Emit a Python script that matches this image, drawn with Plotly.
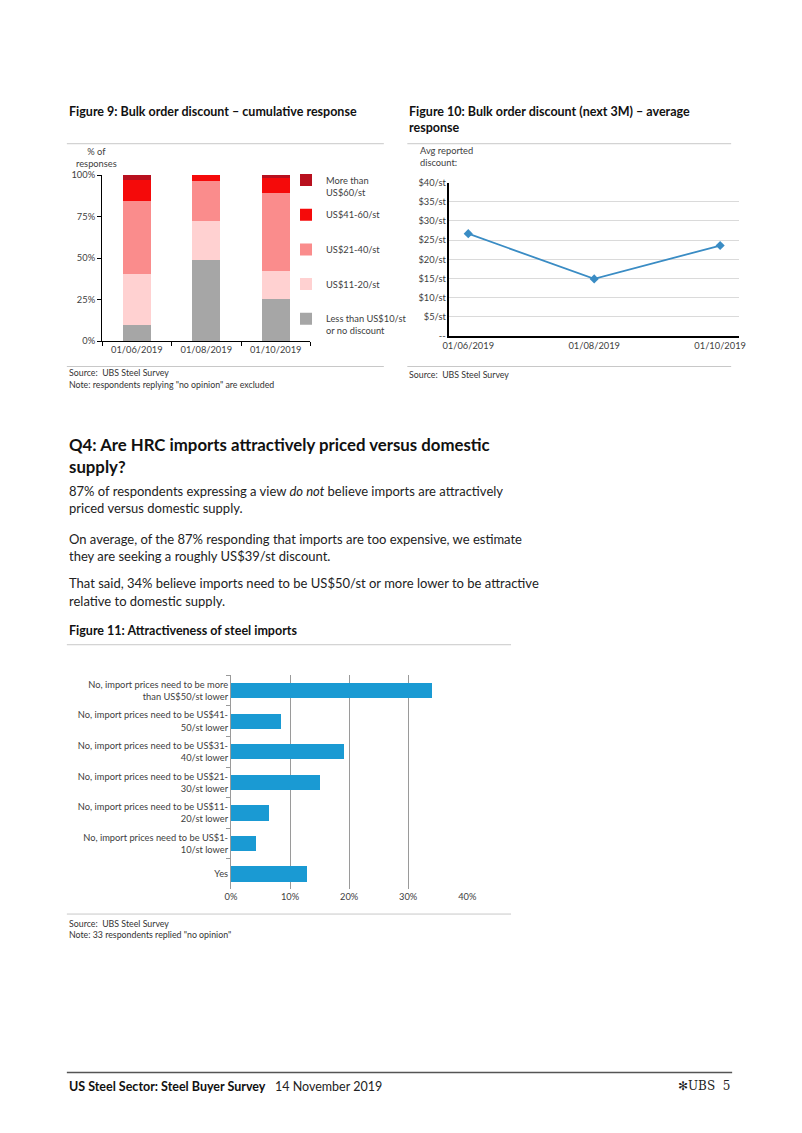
import plotly.graph_objects as go

# page geometry: browser body margin is 8px, so the figure is 16px smaller than the window
PAGE_W, PAGE_H, BODY_M = 802, 1133, 8
W, H = PAGE_W - 2 * BODY_M, PAGE_H - 2 * BODY_M
FONT = "Lato"
TXT = "#222222"
AX = "#404040"
NB = "\u00a0"

# ---------- data ----------
f9_dates = ["01/06/2019", "01/08/2019", "01/10/2019"]
f9_lt10 = [9.5, 49.1, 25.2]
f9_11_20 = [31.1, 23.1, 17.3]
f9_21_40 = [43.5, 24.5, 46.8]
f9_41_60 = [12.9, 3.3, 9.1]
f9_gt60 = [3.0, 0.0, 1.6]
f9_names = ["Less than US$10/st<br>or no discount", "US$11-20/st", "US$21-40/st",
            "US$41-60/st", "More than<br>US$60/st"]
f9_colors = ["#A6A6A6", "#FFD1D1", "#FA8C8C", "#F50A0A", "#B8101E"]
f9_ticks = [0, 25, 50, 75, 100]
f9_ticktext = ["0%", "25%", "50%", "75%", "100%"]

f10_dates = ["01/06/2019", "01/08/2019", "01/10/2019"]
f10_avg = [26.7, 14.9, 23.6]
f10_ticks = [0, 5, 10, 15, 20, 25, 30, 35, 40]
f10_ticktext = ["--", "$5/st", "$10/st", "$15/st", "$20/st", "$25/st", "$30/st", "$35/st", "$40/st"]

f11_cats = ["No, import prices need to be more<br>than US$50/st lower",
            "No, import prices need to be US$41-<br>50/st lower",
            "No, import prices need to be US$31-<br>40/st lower",
            "No, import prices need to be US$21-<br>30/st lower",
            "No, import prices need to be US$11-<br>20/st lower",
            "No, import prices need to be US$1-<br>10/st lower",
            "Yes"]
f11_vals = [34.1, 8.5, 19.2, 15.0, 6.4, 4.3, 12.8]
f11_ticks = [0, 10, 20, 30, 40]
f11_ticktext = ["0%", "10%", "20%", "30%", "40%"]


def px(x):
    return (x - BODY_M) / W


def py(y):
    return 1 - (y - BODY_M) / H


fig = go.Figure()

# ---------- Figure 9 ----------
series9 = [f9_lt10, f9_11_20, f9_21_40, f9_41_60, f9_gt60]
n9 = len(series9)
for i, (name, vals, col) in enumerate(zip(f9_names, series9, f9_colors)):
    label = name if "<br>" in name else name + "<br>" + NB
    fig.add_trace(go.Bar(x=f9_dates, y=vals, name=label, marker=dict(color=col, line=dict(width=0)),
                         width=0.4, xaxis="x", yaxis="y", legendgroup="g%d" % i,
                         legendrank=n9 - i, showlegend=True))

# ---------- Figure 10 ----------
fig.add_trace(go.Scatter(x=f10_dates, y=f10_avg, mode="lines+markers",
                         line=dict(color="#3A8CC4", width=1.8),
                         marker=dict(symbol="diamond", size=7, color="#3A8CC4"),
                         xaxis="x2", yaxis="y2", showlegend=False))

# ---------- Figure 11 ----------
fig.add_trace(go.Bar(x=f11_vals, y=f11_cats, orientation="h", width=0.5,
                     marker=dict(color="#1A9AD3", line=dict(width=0)),
                     xaxis="x3", yaxis="y3", showlegend=False))

tickfont = dict(family=FONT, size=9.3, color=AX)

fig.update_layout(
    width=W, height=H, margin=dict(l=0, r=0, t=0, b=0),
    paper_bgcolor="white", plot_bgcolor="rgba(0,0,0,0)",
    barmode="stack",
    font=dict(family=FONT, color=TXT),
    showlegend=True,
    legend=dict(x=px(285), y=py(163), xanchor="left", yanchor="top",
                traceorder="grouped", tracegroupgap=7.5, valign="top",
                font=dict(family=FONT, size=9.3, color=AX), bgcolor="rgba(0,0,0,0)"),
    xaxis=dict(domain=[px(97), px(310)], anchor="y", showline=True, linecolor="#000", linewidth=1.2,
               ticks="outside", tickson="boundaries", ticklen=4, tickcolor="#000",
               tickfont=tickfont, showgrid=False, fixedrange=True),
    yaxis=dict(domain=[py(338.3), py(170.7)], anchor="x", range=[0, 100], tickvals=f9_ticks,
               ticktext=f9_ticktext, showline=True, linecolor="#000", linewidth=1.2,
               ticks="outside", ticklen=4, tickcolor="#000", tickfont=tickfont,
               showgrid=False, zeroline=False),
    xaxis2=dict(domain=[px(452), px(748)], anchor="y2", showline=True, linecolor="#000", linewidth=1.5,
                ticks="", tickfont=tickfont, showgrid=False),
    yaxis2=dict(domain=[py(333.3), py(178.3)], anchor="x2", range=[0, 40], tickvals=f10_ticks,
                ticktext=f10_ticktext, showline=True, linecolor="#000", linewidth=1.5,
                ticks="", tickfont=tickfont, showgrid=True, gridcolor="#DADADA", gridwidth=1,
                zeroline=False),
    xaxis3=dict(domain=[px(228.7), px(470.3)], anchor="y3", range=[0, 40], tickvals=f11_ticks,
                ticktext=f11_ticktext, showline=False, ticks="", tickfont=tickfont,
                showgrid=True, gridcolor="#9A9A9A", gridwidth=1, zeroline=False),
    yaxis3=dict(domain=[py(892), py(676)], anchor="x3", autorange="reversed",
                showline=True, linecolor="#9A9A9A", linewidth=1, ticks="outside",
                tickson="boundaries", ticklen=4, tickcolor="#9A9A9A", tickfont=tickfont,
                showgrid=False),
)

ann = []


def text(x, y, s, size=9, bold=False, color=TXT, anchor="left", family=FONT):
    if bold:
        s = "<b>" + s + "</b>"
    ann.append(dict(x=px(x), y=py(y), xref="paper", yref="paper", text=s, showarrow=False,
                    xanchor=anchor, yanchor="middle", align=anchor,
                    font=dict(family=family, size=size, color=color)))


# Figure titles
text(61, 106, "Figure 9: Bulk order discount – cumulative response", 12.5, True, "#111")
text(409, 106, "Figure 10: Bulk order discount (next 3M) – average", 12.5, True, "#111")
text(409, 123, "response", 12.5, True, "#111")
text(91, 153, "% of<br>responses", 9.3, False, AX, "center")
text(420, 152, "Avg reported<br>discount:", 9.3, False, AX)
text(61, 370, "Source:  UBS Steel Survey", 8.8, False, "#333")
text(61, 382, "Note: respondents replying \"no opinion\" are excluded", 8.8, False, "#333")
text(409, 372, "Source:  UBS Steel Survey", 8.8, False, "#333")

# Body text
text(61, 454, "<b>Q4: Are HRC imports attractively priced versus domestic<br>supply?</b>", 16.8, False, "#111")
BODY = 13
text(61, 490, "87% of respondents expressing a view <i>do not</i> believe imports are attractively", BODY, False, "#222")
text(61, 507, "priced versus domestic supply.", BODY, False, "#222")
text(61, 538, "On average, of the 87% responding that imports are too expensive, we estimate", BODY, False, "#222")
text(61, 555, "they are seeking a roughly US$39/st discount.", BODY, False, "#222")
text(61, 583, "That said, 34% believe imports need to be US$50/st or more lower to be attractive", BODY, False, "#222")
text(61, 601, "relative to domestic supply.", BODY, False, "#222")

text(61, 631, "Figure 11: Attractiveness of steel imports", 12.5, True, "#111")
text(61, 927, "Source:  UBS Steel Survey", 8.8, False, "#333")
text(61, 938, "Note: 33 respondents replied \"no opinion\"", 8.8, False, "#333")

# Footer
text(61, 1091, "US Steel Sector: Steel Buyer Survey", 12.5, True, "#111")
text(272, 1091, "14 November 2019", 12.5, False, "#222")
text(741, 1091, "✻UBS  5", 12, False, "#222", "right", "DejaVu Serif")

fig.update_layout(annotations=ann)

shapes = []
for (x0, x1, y, col, w) in [(61, 385, 139, "#C8C8C8", 1), (409, 740, 139, "#C8C8C8", 1),
                            (61, 385, 364, "#C8C8C8", 1), (409, 740, 364, "#C8C8C8", 1),
                            (61, 515, 645, "#C8C8C8", 1), (61, 515, 917, "#C8C8C8", 1),
                            (61, 741, 1077, "#555555", 1.5)]:
    shapes.append(dict(type="line", xref="paper", yref="paper", x0=px(x0), x1=px(x1),
                       y0=py(y), y1=py(y), line=dict(color=col, width=w)))
fig.update_layout(shapes=shapes)

fig.write_html("out.html")
